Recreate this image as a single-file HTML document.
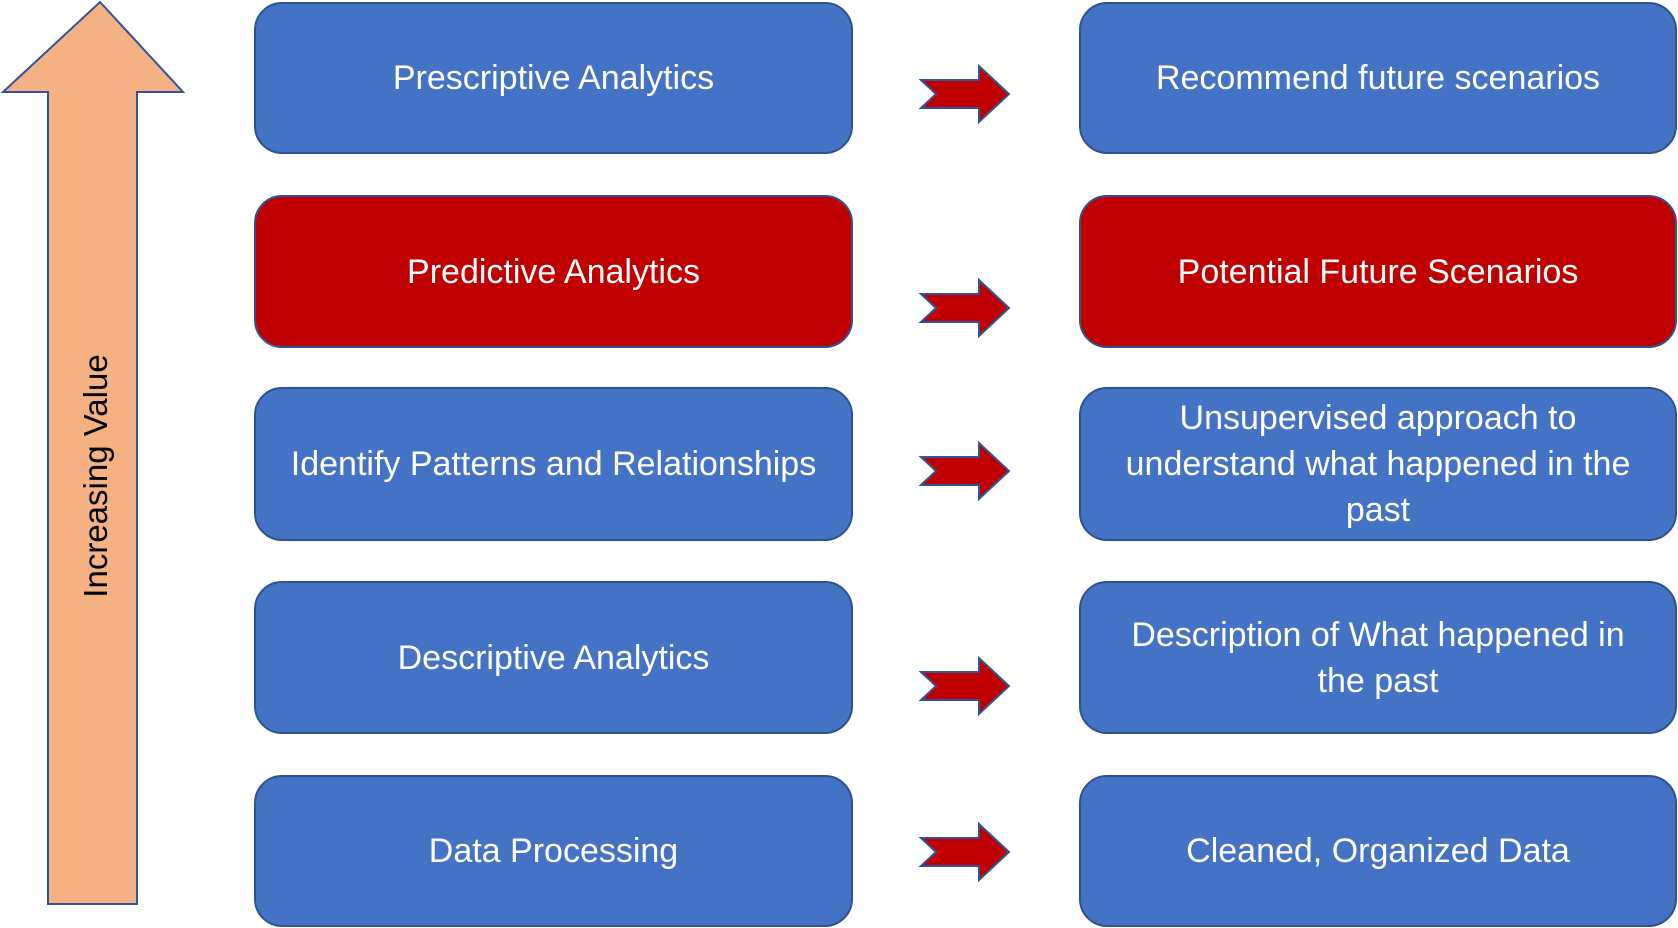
<!DOCTYPE html>
<html><head><style>
body{margin:0;width:1678px;height:928px;background:#fff;position:relative;overflow:hidden;font-family:"Liberation Sans",sans-serif}
.b{position:absolute;box-sizing:border-box;border:2px solid #2F528F;border-radius:28px;background:#4472C4;color:#fff;font-size:34px;line-height:46px;display:flex;align-items:center;justify-content:center;text-align:center;white-space:nowrap}
.r{background:#C00000}
.L{left:254px;width:599px}
.R{left:1079px;width:598px}
</style></head><body>
<svg width="1678" height="928" style="position:absolute;left:0;top:0">
<polygon points="100,2 183,92 137,92 137,904 48,904 48,92 3,92" fill="#F4B183" stroke="#2F5597" stroke-width="2"/>
<g fill="#C00000" stroke="#2F5597" stroke-width="2">
<polygon points="921,80 979,80 979,66 1009,94 979,122 979,108 921,108 936,94"/>
<polygon points="921,294 979,294 979,280 1009,308 979,336 979,322 921,322 936,308"/>
<polygon points="921,457 979,457 979,443 1009,471 979,499 979,485 921,485 936,471"/>
<polygon points="921,672 979,672 979,658 1009,686 979,714 979,700 921,700 936,686"/>
<polygon points="921,838 979,838 979,824 1009,852 979,880 979,866 921,866 936,852"/>
</g>
<text x="0" y="0" transform="translate(107,476) rotate(-90)" text-anchor="middle" font-family="Liberation Sans" font-size="33" fill="#000">Increasing Value</text>
</svg>
<div class="b L" style="top:2px;height:152px">Prescriptive Analytics</div>
<div class="b L r" style="top:195px;height:153px">Predictive Analytics</div>
<div class="b L" style="top:387px;height:154px">Identify Patterns and Relationships</div>
<div class="b L" style="top:581px;height:153px">Descriptive Analytics</div>
<div class="b L" style="top:775px;height:152px">Data Processing</div>
<div class="b R" style="top:2px;height:152px">Recommend future scenarios</div>
<div class="b R r" style="top:195px;height:153px">Potential Future Scenarios</div>
<div class="b R" style="top:387px;height:154px">Unsupervised approach to<br>understand what happened in the<br>past</div>
<div class="b R" style="top:581px;height:153px">Description of What happened in<br>the past</div>
<div class="b R" style="top:775px;height:152px">Cleaned, Organized Data</div>
</body></html>
